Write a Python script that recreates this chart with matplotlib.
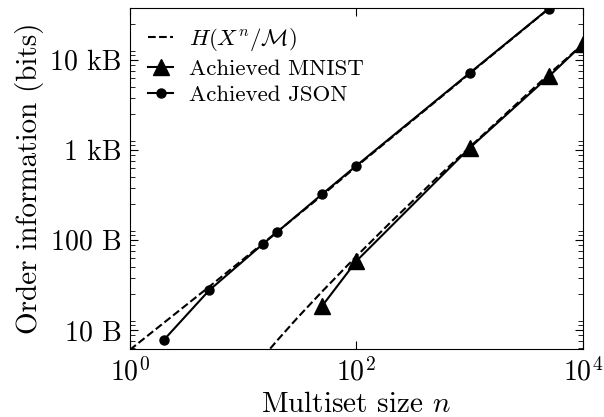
"""
Order information vs multiset size (log-log)
"""
import matplotlib
matplotlib.use("Agg")
import matplotlib.pyplot as plt
from matplotlib.ticker import FixedLocator, LogLocator, NullLocator, NullFormatter

plt.rcParams['font.family'] = 'serif'
plt.rcParams['font.serif'] = ['cmr10']
plt.rcParams['mathtext.fontset'] = 'cm'
plt.rcParams['axes.unicode_minus'] = False
plt.rcParams['axes.formatter.use_mathtext'] = True

# values in bits
n_bound_json = [1, 2, 5, 10, 20, 50, 100, 1000, 10000]
bound_json = [48, 96, 240, 485, 980, 2500, 5200, 56000, 600000]

n_bound_mnist = [15, 20, 30, 50, 100, 200, 500, 1000, 2000, 5000, 10000]
bound_mnist = [40, 61, 108, 214, 525, 1245, 3770, 8530, 19050, 55100, 118500]

n_mnist = [50, 100, 1000, 5000, 10000]
achieved_mnist = [148, 464, 8360, 52000, 119000]

n_json = [2, 5, 15, 20, 50, 100, 1000, 5000]
achieved_json = [62, 219, 720, 976, 2576, 5312, 56800, 295200]

# tick positions (bits) and their byte labels
ytick_vals = [80, 800, 8000, 80000]
ytick_labels = ['10 B', '100 B', '1 kB', '10 kB']

fig = plt.figure(figsize=(6.04, 4.17), dpi=100)
ax = fig.add_axes([0.215, 0.163, 0.75, 0.818])

ax.plot(n_bound_json, bound_json, 'k--', lw=1.5, label=r'$H(X^n/\mathcal{M})$')
ax.plot(n_mnist, achieved_mnist, 'k-', marker='^', ms=11, lw=1.5,
        label='Achieved MNIST')
ax.plot(n_json, achieved_json, 'k-', marker='o', ms=6.5, lw=1.5,
        label='Achieved JSON')
ax.plot(n_bound_mnist, bound_mnist, 'k--', lw=1.5)

ax.set_xscale('log')
ax.set_yscale('log')
ax.set_xlim(1, 1e4)
ax.set_ylim(49, 3.0e5)

ax.xaxis.set_major_locator(FixedLocator([1, 100, 10000]))
ax.xaxis.set_minor_locator(NullLocator())
ax.yaxis.set_major_locator(FixedLocator(ytick_vals))
ax.set_yticklabels(ytick_labels)
ax.yaxis.set_minor_locator(LogLocator(base=10, subs=range(1, 10), numticks=50))
ax.yaxis.set_minor_formatter(NullFormatter())

ax.tick_params(which='both', direction='in', top=True, right=True, labelsize=20)
ax.tick_params(which='major', length=6, pad=6)
ax.tick_params(which='minor', length=3.5)

ax.set_xlabel('Multiset size $n$', fontsize=21, labelpad=4)
ax.set_ylabel('Order information (bits)', fontsize=21)

ax.legend(loc='upper left', frameon=False, fontsize=16.5, handlelength=1.1,
          handletextpad=0.7, labelspacing=0.25, borderaxespad=0.4)

fig.savefig('out.png', dpi=100)
